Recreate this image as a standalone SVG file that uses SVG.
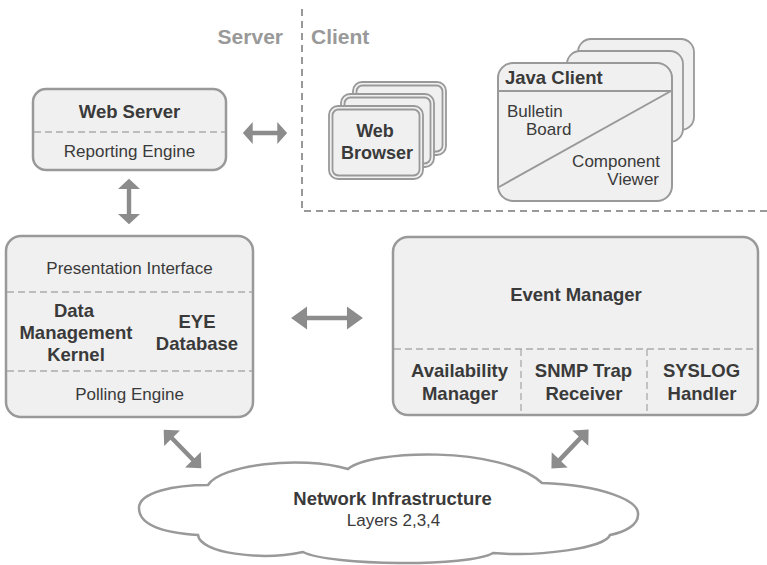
<svg xmlns="http://www.w3.org/2000/svg" width="767" height="565" viewBox="0 0 767 565">
<style>
.box{fill:#f0f0f0;stroke:#999;stroke-width:2.5}
.sbox{fill:#f0f0f0;stroke:#999;stroke-width:1.8}
.sep{fill:none;stroke:#aaa;stroke-width:1.3;stroke-dasharray:7,4}
.div{fill:none;stroke:#999;stroke-width:2;stroke-dasharray:7,5}
.b{font-family:"Liberation Sans",Arial,sans-serif;font-weight:bold;font-size:18.5px;fill:#3a3a3a;text-anchor:middle}
.r{font-family:"Liberation Sans",Arial,sans-serif;font-size:17px;fill:#3a3a3a;text-anchor:middle}
.g{font-family:"Liberation Sans",Arial,sans-serif;font-weight:bold;font-size:21px;fill:#999}
.st{text-anchor:start}
.en{text-anchor:end}
.arr{fill:#8c8c8c}
</style>
<defs>
<polygon id="dbl" points="-27,0 -15,-11 -15,-2.2 15,-2.2 15,-11 27,0 15,11 15,2.2 -15,2.2 -15,11"/>
</defs>

<g id="divider">
<path class="div" d="M302,9 V211 H767"/>
<text class="g en" x="283" y="44">Server</text>
<text class="g st" x="311" y="44">Client</text>
</g>

<g id="web-server">
<rect class="box" x="33" y="89" width="193" height="81" rx="13"/>
<line class="sep" x1="34" y1="132" x2="225" y2="132"/>
<text class="b" x="129.5" y="118">Web Server</text>
<text class="r" x="129.5" y="157">Reporting Engine</text>
</g>

<g id="web-browser">
<rect class="sbox" x="353" y="82" width="93" height="73" rx="9"/>
<rect class="sbox" x="356.5" y="85.5" width="86" height="66" rx="6"/>
<rect class="sbox" x="341" y="94" width="93" height="73" rx="9"/>
<rect class="sbox" x="344.5" y="97.5" width="86" height="66" rx="6"/>
<rect class="sbox" x="329" y="106" width="94" height="73" rx="9"/>
<rect class="sbox" x="332.5" y="109.5" width="87" height="66" rx="6"/>
<text class="b" x="375" y="137" style="font-size:18px">Web</text>
<text class="b" x="377" y="159" style="font-size:18px">Browser</text>
</g>

<g id="java-client">
<rect class="sbox" x="578" y="39" width="116" height="91" rx="13"/>
<rect class="sbox" x="567" y="51" width="116" height="91" rx="13"/>
<rect class="box" x="498" y="63" width="174" height="138" rx="15" style="stroke-width:2"/>
<line x1="498" y1="91" x2="672" y2="91" stroke="#999" stroke-width="2"/>
<line x1="499" y1="187" x2="671" y2="91" stroke="#999" stroke-width="2"/>
<text class="b st" x="505" y="84">Java Client</text>
<text class="r st" x="507" y="117">Bulletin</text>
<text class="r st" x="526" y="135">Board</text>
<text class="r en" x="660" y="167">Component</text>
<text class="r en" x="659" y="185">Viewer</text>
</g>

<g id="core">
<rect class="box" x="6" y="236" width="247" height="181" rx="15"/>
<line class="sep" x1="7" y1="292" x2="252" y2="292"/>
<line class="sep" x1="7" y1="371" x2="252" y2="371"/>
<text class="r" x="129.5" y="274">Presentation Interface</text>
<text class="b" x="74" y="317">Data</text>
<text class="b" x="76" y="339">Management</text>
<text class="b" x="76" y="361">Kernel</text>
<text class="b" x="197" y="328">EYE</text>
<text class="b" x="197" y="350">Database</text>
<text class="r" x="129.5" y="400">Polling Engine</text>
</g>

<g id="event-manager">
<rect class="box" x="393" y="237" width="365" height="178" rx="15"/>
<line class="sep" x1="394" y1="349" x2="757" y2="349"/>
<line class="sep" x1="521" y1="349" x2="521" y2="414"/>
<line class="sep" x1="647" y1="349" x2="647" y2="414"/>
<text class="b" x="576" y="301">Event Manager</text>
<text class="b" x="459.5" y="377">Availability</text>
<text class="b" x="460" y="400">Manager</text>
<text class="b" x="583.5" y="377">SNMP Trap</text>
<text class="b" x="584" y="400">Receiver</text>
<text class="b" x="701.5" y="377">SYSLOG</text>
<text class="b" x="702" y="400">Handler</text>
</g>

<g id="network">
<path d="M139,508 C139,492 175,485 208,485 C220,465 300,455 348,469 C370,450 500,445 542,483 C600,485 640,500 638,515 C638,525 625,532 610,535 C605,548 540,557 493,553 C470,567 330,566 303,552 C260,561 200,553 198,535 C150,532 139,520 139,508 Z" fill="#fff" stroke="#999" stroke-width="2.5"/>
<text class="b" x="392.5" y="505">Network Infrastructure</text>
<text class="r" x="393.5" y="526">Layers 2,3,4</text>
</g>

<g id="connectors" class="arr">
<use href="#dbl" transform="translate(265,133) scale(0.82,1)"/>
<use href="#dbl" transform="translate(327,318) scale(1.33,1.05)"/>
<use href="#dbl" transform="translate(129,201.5) rotate(90) scale(0.84,1)"/>
<use href="#dbl" transform="translate(182.5,449) rotate(45.8)"/>
<use href="#dbl" transform="translate(570,449) rotate(-46.5)"/>
</g>
</svg>
